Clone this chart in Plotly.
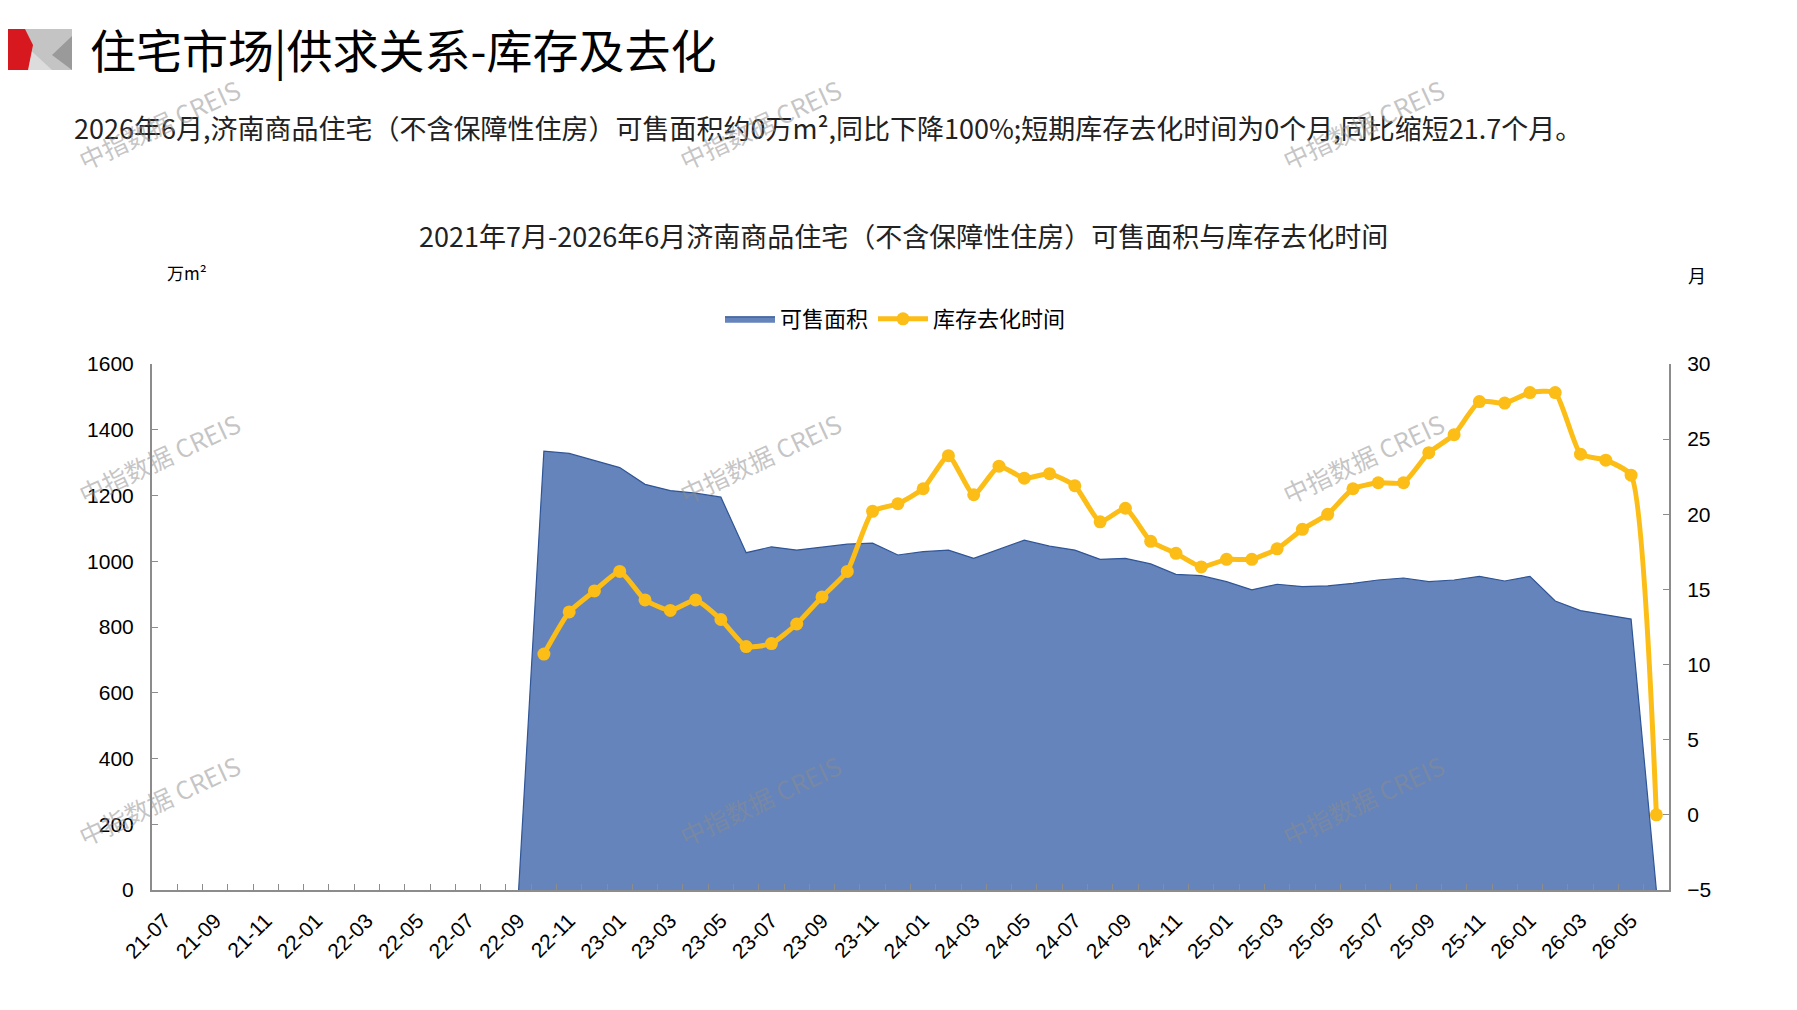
import plotly.graph_objects as go

# ---- data ----
months = [f"{y:02d}-{m:02d}" for y, m in
          [(21, m) for m in range(7, 13)] + [(yy, m) for yy in range(22, 26) for m in range(1, 13)] + [(26, m) for m in range(1, 7)]]

area_vals = [None] * 14 + [
    0, 1335, 1328, 1306, 1285, 1234, 1215, 1207, 1195, 1026,
    1044, 1034, 1043, 1052, 1055, 1019, 1029, 1034, 1009, 1036,
    1064, 1046, 1034, 1006, 1009, 992, 960, 956, 938, 913,
    930, 923, 925, 933, 943, 949, 938, 943, 954, 940,
    954, 879, 850, 837, 824, 0]

months_vals = [None] * 15 + [
    10.7, 13.5, 14.9, 16.2, 14.3, 13.6, 14.3, 13.0, 11.2, 11.4,
    12.7, 14.5, 16.2, 20.2, 20.7, 21.7, 23.9, 21.3, 23.2, 22.4,
    22.7, 21.9, 19.5, 20.4, 18.2, 17.4, 16.5, 17.0, 17.0, 17.7,
    19.0, 20.0, 21.7, 22.1, 22.1, 24.1, 25.3, 27.5, 27.4, 28.1,
    28.1, 24.0, 23.6, 22.6, 0.0]

tick_text = [m if i % 2 == 0 else "" for i, m in enumerate(months)]

series_names = ["可售面积", "库存去化时间"]
title_text = "住宅市场|供求关系-库存及去化"
subtitle_text = "2026年6月,济南商品住宅（不含保障性住房）可售面积约0万m²,同比下降100%;短期库存去化时间为0个月,同比缩短21.7个月。"
chart_title = "2021年7月-2026年6月济南商品住宅（不含保障性住房）可售面积与库存去化时间"

# ---- geometry helpers (screen pixel -> paper); page body has an 8px margin ----
OFF = 8
W, H = 1797 - 2 * OFF, 1010 - 2 * OFF
L, R, T, B = 152 - OFF, W - (1669 - OFF), 364 - OFF, H - (890 - OFF)
PW, PH = W - L - R, H - T - B


def px(x):
    return (x - OFF - L) / PW


def py(y):
    return (H - B - (y - OFF)) / PH


CJK = "Noto Sans CJK SC"
NUM = "Liberation Sans, Arial, sans-serif"

fig = go.Figure()
fig.add_trace(go.Scatter(
    x=months, y=area_vals, name=series_names[0], mode="lines",
    fill="tozeroy", fillcolor="#6584BB",
    line=dict(color="#2F5597", width=1.2),
))
fig.add_trace(go.Scatter(
    x=months, y=months_vals, name=series_names[1], mode="lines+markers",
    yaxis="y2",
    line=dict(color="#FBBD16", width=5, shape="spline", smoothing=0.5),
    marker=dict(color="#FBBD16", size=13),
))

axis_col = "#8C8C8C"
fig.update_layout(
    width=W, height=H,
    margin=dict(l=L, r=R, t=T, b=B),
    paper_bgcolor="white", plot_bgcolor="white",
    showlegend=True,
    legend=dict(orientation="h", x=px(720), y=py(319), xanchor="left", yanchor="middle",
                font=dict(family=CJK, size=22, color="#000"), bgcolor="rgba(0,0,0,0)",
                itemwidth=50, tracegroupgap=0),
    xaxis=dict(
        type="category", range=[-0.5, len(months) - 0.5],
        tickvals=months, ticktext=tick_text, tickangle=-45,
        ticks="inside", tickson="boundaries", ticklen=6, tickcolor=axis_col,
        ticklabelstandoff=8,
        showline=True, linecolor=axis_col, linewidth=2, showgrid=False, zeroline=False,
        tickfont=dict(family=NUM, size=21, color="#000"),
    ),
    yaxis=dict(
        range=[0, 1600], dtick=200, ticks="inside", ticklen=6, tickcolor=axis_col,
        ticklabelstandoff=12,
        showline=True, linecolor=axis_col, linewidth=2, showgrid=False, zeroline=False,
        tickfont=dict(family=NUM, size=21, color="#000"),
    ),
    yaxis2=dict(
        range=[-5, 30], dtick=5, overlaying="y", side="right",
        ticks="inside", ticklen=6, tickcolor=axis_col,
        ticklabelstandoff=12,
        showline=True, linecolor=axis_col, linewidth=2, showgrid=False, zeroline=False,
        tickfont=dict(family=NUM, size=21, color="#000"),
    ),
)

ann = [
    dict(text=title_text, x=px(88), y=py(48), xanchor="left", yanchor="middle",
         font=dict(family=CJK, size=46, color="#000")),
    dict(text=subtitle_text, x=px(72), y=py(127), xanchor="left", yanchor="middle",
         font=dict(family=CJK, size=27, color="#222")),
    dict(text=chart_title, x=px(903), y=py(235), xanchor="center", yanchor="middle",
         font=dict(family=CJK, size=27, color="#222")),
    dict(text="万m²", x=px(187), y=py(273), xanchor="center", yanchor="middle",
         font=dict(family=CJK, size=17, color="#000")),
    dict(text="月", x=px(1697), y=py(275), xanchor="center", yanchor="middle",
         font=dict(family=CJK, size=18, color="#000")),
]
for wx in (159, 760, 1363):
    for wy in (124, 458, 800):
        ann.append(dict(text="中指数据 CREIS", x=px(wx), y=py(wy), xanchor="center", yanchor="middle",
                        textangle=-25, font=dict(family=CJK, size=25, color="rgba(140,140,140,0.5)")))
for a in ann:
    a.update(xref="paper", yref="paper", showarrow=False)
fig.update_layout(annotations=ann)

# logo shapes (screen pixel positions converted to paper)
def path(pts):
    return "M " + " L ".join(f"{px(x)},{py(y)}" for x, y in pts) + " Z"

shapes = [
    dict(type="path", path=path([(25, 29), (72, 29), (72, 70), (25, 70)]), fillcolor="#C4C4C4", line_width=0),
    dict(type="path", path=path([(25, 45), (52, 70), (25, 70)]), fillcolor="#DCDCDC", line_width=0),
    dict(type="path", path=path([(72, 36), (52, 55), (72, 70)]), fillcolor="#9A9A9A", line_width=0),
    dict(type="path", path=path([(0, 29), (25, 29), (33, 45), (28, 70), (0, 70)]), fillcolor="#D7191F", line_width=0),
]
for s in shapes:
    s.update(xref="paper", yref="paper", layer="above")
fig.update_layout(shapes=shapes)

fig.write_html("out.html")
